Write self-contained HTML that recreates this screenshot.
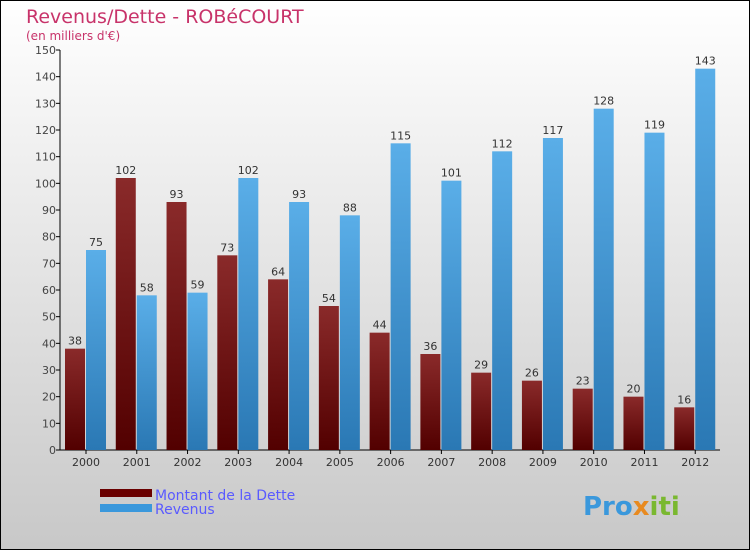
<!DOCTYPE html>
<html><head><meta charset="utf-8"><style>
body{margin:0}
svg{display:block;font-family:"DejaVu Sans","Liberation Sans",sans-serif}
</style></head><body>
<svg id="c" width="750" height="550" viewBox="0 0 750 550">
<defs>
<linearGradient id="bg" x1="0" y1="0" x2="0" y2="1"><stop offset="0" stop-color="#ffffff"/><stop offset="1" stop-color="#c8c8c8"/></linearGradient>
<linearGradient id="gd" x1="0" y1="0" x2="0" y2="1"><stop offset="0" stop-color="#8a2a2a"/><stop offset="1" stop-color="#520000"/></linearGradient>
<linearGradient id="gr" x1="0" y1="0" x2="0" y2="1"><stop offset="0" stop-color="#5aaee8"/><stop offset="1" stop-color="#2a78b4"/></linearGradient>
</defs>
<rect x="0.5" y="0.5" width="749" height="549" fill="url(#bg)" stroke="#000"/>
<text x="26" y="23" font-size="19" fill="#c8336a">Revenus/Dette - ROBéCOURT</text>
<text x="26" y="40" font-size="12" fill="#c8336a">(en milliers d'€)</text>
<g id="axes"></g>
<g id="bars"></g>
<g>
<rect x="100" y="489" width="52" height="8" fill="#6a0000"/>
<text x="155" y="500" font-size="14" fill="#5a5aff">Montant de la Dette</text>
<rect x="100" y="504" width="52" height="8" fill="#3a98dc"/>
<text x="155" y="514" font-size="14" fill="#5a5aff">Revenus</text>
</g>
<text x="583" y="515" font-size="26" font-weight="bold" fill="#3a98dc">Pro<tspan fill="#e88a20">x</tspan><tspan fill="#7ab830">iti</tspan></text>
</svg>
<script>
const categories=["2000","2001","2002","2003","2004","2005","2006","2007","2008","2009","2010","2011","2012"];
const dette=[38,102,93,73,64,54,44,36,29,26,23,20,16];
const revenus=[75,58,59,102,93,88,115,101,112,117,128,119,143];
const yTicks=[0,10,20,30,40,50,60,70,80,90,100,110,120,130,140,150];
const NS="http://www.w3.org/2000/svg";
const x0=60,step=50.77,y0=450,yTop=50,yMax=150;
const y=v=>y0-(v/yMax)*(y0-yTop);
const gx=i=>x0+i*step;
function mk(t,a,p){const e=document.createElementNS(NS,t);for(const k in a)e.setAttribute(k,a[k]);p.appendChild(e);return e;}
const axes=document.getElementById('axes'),bars=document.getElementById('bars');
const ya=mk('line',{x1:x0,y1:yTop,x2:x0,y2:y0,stroke:'#000'},axes);


const xa=mk('line',{x1:x0,y1:y0,x2:x0+categories.length*step,y2:y0,stroke:'#000'},axes);


yTicks.forEach(v=>{
 mk('line',{x1:x0-4,y1:y(v),x2:x0,y2:y(v),stroke:'#000'},axes);
 const t=mk('text',{x:x0-4,y:y(v)+4,'font-size':11,fill:'#444','text-anchor':'end'},axes);
 t.textContent=v;
 
 
});
categories.forEach((c,i)=>{
 const cx=gx(i)+26;
 mk('line',{x1:cx,y1:y0,x2:cx,y2:y0+4,stroke:'#000'},axes);
 const t=mk('text',{x:cx,y:y0+16,'font-size':11,fill:'#333','text-anchor':'middle'},axes);
 t.textContent=c;
 
 
 [[dette[i],5,'url(#gd)','dette'],[revenus[i],26,'url(#gr)','revenus']].forEach(([v,off,f,n])=>{
  const bx=gx(i)+off;
  const r=mk('rect',{x:bx,y:y(v),width:20,height:y0-y(v),fill:f},bars);
  
  
  const l=mk('text',{x:bx+10,y:y(v)-4,'font-size':11,fill:'#333','text-anchor':'middle'},bars);
  l.textContent=v;
  
  
 });
});
</script>
</body></html>
